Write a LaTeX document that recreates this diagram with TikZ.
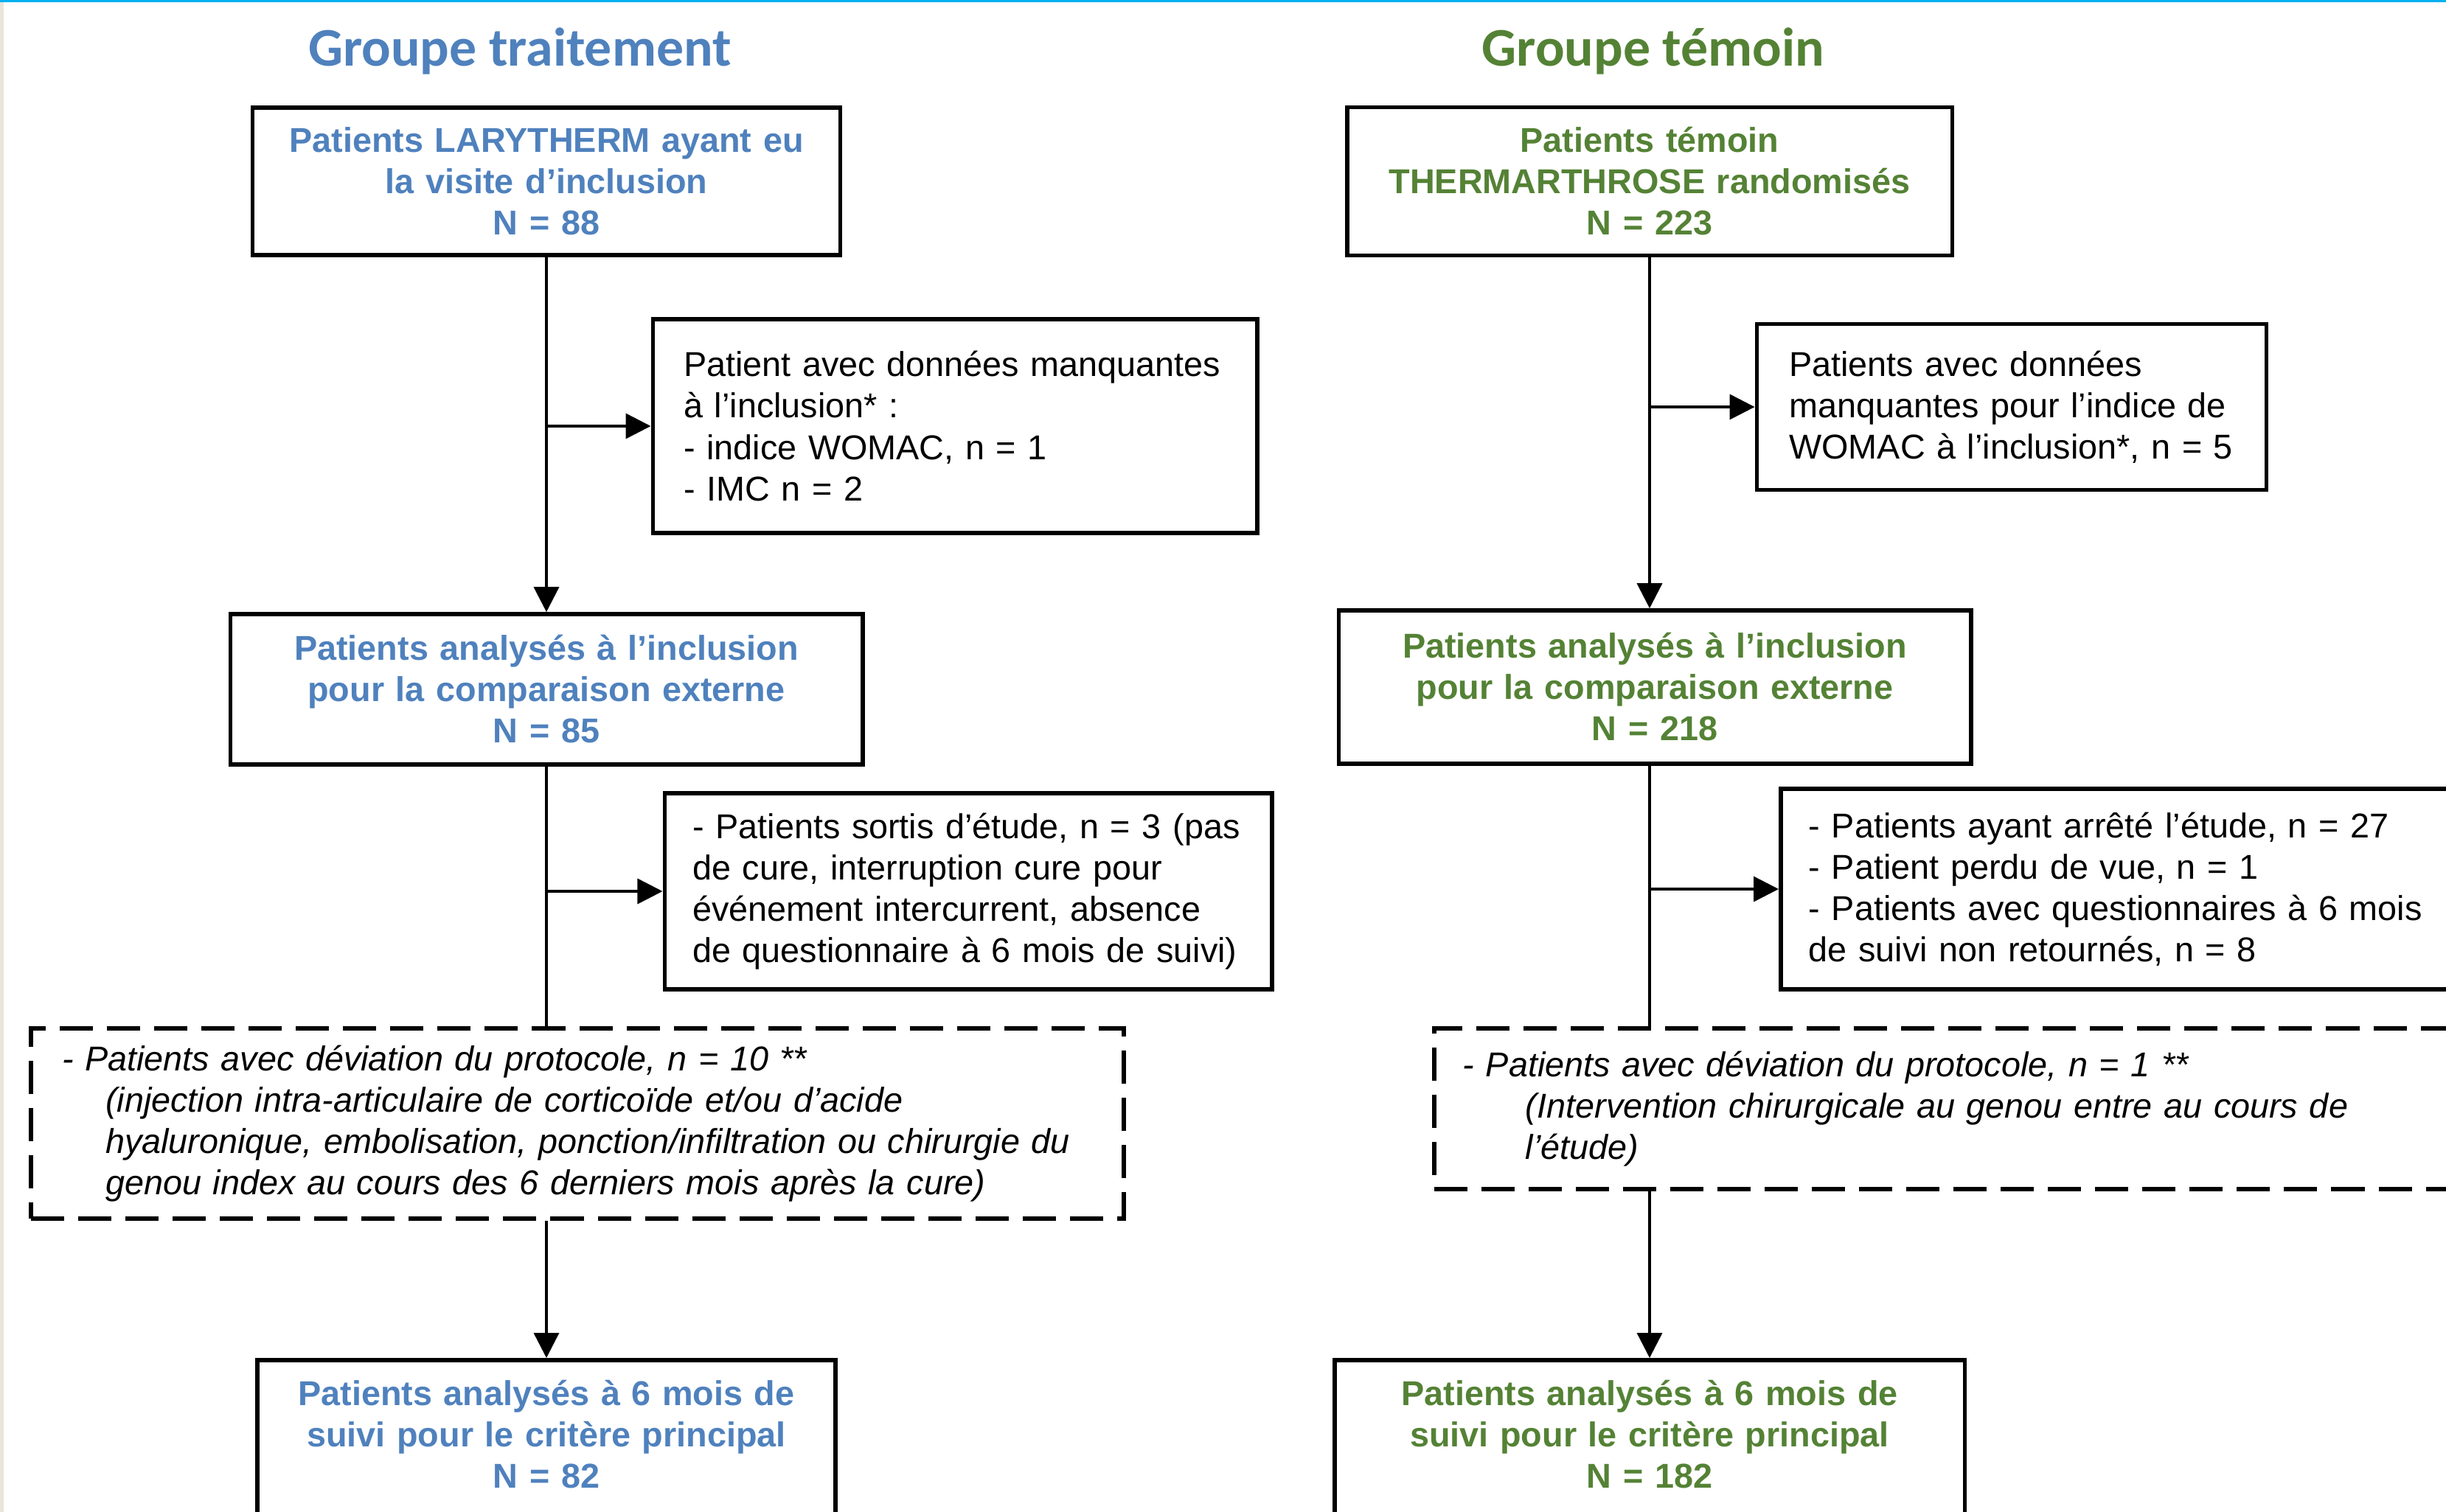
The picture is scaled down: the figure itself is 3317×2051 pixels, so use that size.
\documentclass[tikz,border=0pt]{standalone}
\usepackage{fontspec}
\setmainfont{Liberation Sans}
\newfontfamily\titlefont{Carlito}
\usetikzlibrary{arrows.meta}
\definecolor{grpblue}{HTML}{4F81BD}
\definecolor{grpgreen}{HTML}{548235}
\definecolor{edgecyan}{HTML}{00B0F0}
\definecolor{edgebeige}{HTML}{E9E5DA}
\newcommand{\boxfont}{\fontsize{13.3pt}{15.93pt}\selectfont}

\begin{document}
\begin{tikzpicture}[
    x=0.01cm, y=-0.01cm,
    grouptitle/.style={inner sep=0pt, anchor=base,
      font=\titlefont\fontsize{21pt}{25pt}\selectfont\bfseries},
    mainbox/.style={rectangle, draw=black, line width=0.055cm, align=center,
      font=\boxfont\bfseries, text=#1, inner xsep=0.2cm},
    exclbox/.style={rectangle, draw=black, line width=0.055cm, align=left,
      font=\boxfont},
    devbox/.style={rectangle, draw=black, line width=0.055cm, align=left,
      dash pattern=on 0.45cm off 0.19cm, font=\boxfont\itshape},
    link/.style={draw=black, line width=0.035cm},
    linkarrow/.style={link, -{Triangle[length=0.34cm, width=0.34cm]}}
  ]
  \useasboundingbox (0,0) rectangle (3317,2051);
  \fill[edgebeige] (0,0) rectangle (5,2051);
  \fill[edgecyan] (0,0) rectangle (3317,3);

  % groupe traitement
  \node[grouptitle, text=grpblue] (titleA) at (705,89) {Groupe traitement};
  \node[mainbox=grpblue, text width=7.57cm, minimum height=2cm] (incA) at (741,246)
    {Patients LARYTHERM ayant eu\\
    la visite d’inclusion\\
    N = 88};
  \node[exclbox, inner xsep=0.42cm, text width=7.35cm, minimum height=2.9cm] (exclA1) at (1295,578)
    {Patient avec données manquantes\\
    à l’inclusion* :\\
    - indice WOMAC, n = 1\\
    - IMC n = 2};
  \node[mainbox=grpblue, text width=8.17cm, minimum height=2.04cm] (anaA) at (741,935)
    {Patients analysés à l’inclusion\\
    pour la comparaison externe\\
    N = 85};
  \node[exclbox, inner xsep=0.38cm, text width=7.47cm, minimum height=2.66cm] (exclA2) at (1313,1209)
    {- Patients sortis d’étude, n = 3 (pas\\
    de cure, interruption cure pour\\
    événement intercurrent, absence\\
    de questionnaire à 6 mois de suivi)};
  \node[devbox, inner xsep=0.42cm, text width=13.97cm, minimum height=2.58cm] (devA) at (783,1524)
    {- Patients avec déviation du protocole, n = 10 **\\
    \hspace*{0.59cm}(injection intra-articulaire de corticoïde et/ou d’acide\\
    \hspace*{0.59cm}hyaluronique, embolisation, ponction/infiltration ou chirurgie du\\
    \hspace*{0.59cm}genou index au cours des 6 derniers mois après la cure)};
  \node[mainbox=grpblue, text width=7.44cm, anchor=north, inner ysep=0.27cm, text depth=3cm] (finA) at (741,1842)
    {Patients analysés à 6 mois de\\
    suivi pour le critère principal\\
    N = 82};

  % groupe temoin
  \node[grouptitle, text=grpgreen] (titleB) at (2242,89) {Groupe témoin};
  \node[mainbox=grpgreen, text width=7.8cm, minimum height=2.01cm] (incB) at (2237,246)
    {Patients témoin\\
    THERMARTHROSE randomisés\\
    N = 223};
  \node[exclbox, inner xsep=0.44cm, text width=6.03cm, minimum height=2.25cm] (exclB1) at (2728,552)
    {Patients avec données\\
    manquantes pour l’indice de\\
    WOMAC à l’inclusion*, n = 5};
  \node[mainbox=grpgreen, text width=8.17cm, minimum height=2.08cm] (anaB) at (2244,932)
    {Patients analysés à l’inclusion\\
    pour la comparaison externe\\
    N = 218};
  \node[exclbox, anchor=west, inner xsep=0.38cm, text width=10cm, minimum height=2.72cm] (exclB2) at (2412,1206)
    {- Patients ayant arrêté l’étude, n = 27\\
    - Patient perdu de vue, n = 1\\
    - Patients avec questionnaires à 6 mois\\
    de suivi non retournés, n = 8};
  \node[devbox, anchor=west, inner xsep=0.39cm, text width=14cm, minimum height=2.18cm] (devB) at (1942,1504)
    {- Patients avec déviation du protocole, n = 1 **\\
    \hspace*{0.85cm}(Intervention chirurgicale au genou entre au cours de\\
    \hspace*{0.85cm}l’étude)};
  \node[mainbox=grpgreen, text width=8.14cm, anchor=north, inner ysep=0.27cm, text depth=3cm] (finB) at (2237,1842)
    {Patients analysés à 6 mois de\\
    suivi pour le critère principal\\
    N = 182};

  % liens
  \draw[linkarrow] (incA.south) -- (anaA.north);
  \draw[linkarrow] (incA.south |- exclA1.west) -- (exclA1.west);
  \draw[link] (anaA.south) -- (anaA.south |- devA.north);
  \draw[linkarrow] (anaA.south |- exclA2.west) -- (exclA2.west);
  \draw[linkarrow] (anaA.south |- devA.south) -- (finA.north);

  \draw[linkarrow] (incB.south) -- (incB.south |- anaB.north);
  \draw[linkarrow] (incB.south |- exclB1.west) -- (exclB1.west);
  \draw[link] (incB.south |- anaB.south) -- (incB.south |- devB.north);
  \draw[linkarrow] (incB.south |- exclB2.west) -- (exclB2.west);
  \draw[linkarrow] (incB.south |- devB.south) -- (finB.north);
\end{tikzpicture}
\end{document}
